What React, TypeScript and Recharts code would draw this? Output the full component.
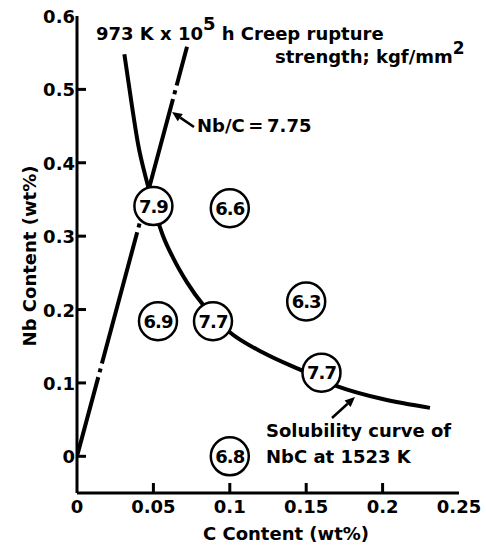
import React from 'react';
import { ComposedChart, XAxis, YAxis, Line, Scatter } from 'recharts';

// ---- data ----
const xTicks = [0, 0.05, 0.1, 0.15, 0.2, 0.25];
const xTickLabels = ['0', '0.05', '0.1', '0.15', '0.2', '0.25'];
const yTicks = [0, 0.1, 0.2, 0.3, 0.4, 0.5, 0.6];
const yTickLabels = ['0', '0.1', '0.2', '0.3', '0.4', '0.5', '0.6'];

// Solubility curve of NbC at 1523 K
const solubilityC = [0.031, 0.036, 0.040, 0.046, 0.050, 0.056, 0.063, 0.072, 0.083, 0.100, 0.122, 0.147, 0.171, 0.200, 0.231];
const solubilityNb = [0.548, 0.477, 0.425, 0.372, 0.341, 0.302, 0.270, 0.237, 0.205, 0.169, 0.141, 0.117, 0.095, 0.078, 0.066];

// Nb/C = 7.75 line
const ratioC = [0, 0.072];
const ratioNb = [0, 0.558];

// Samples: creep rupture strength (kgf/mm2)
const sampleC = [0.05, 0.1, 0.053, 0.089, 0.15, 0.16, 0.1];
const sampleNb = [0.341, 0.338, 0.184, 0.184, 0.211, 0.114, 0];
const sampleStrength = ['7.9', '6.6', '6.9', '7.7', '6.3', '7.7', '6.8'];

const solubilityData = solubilityC.map((c, i) => ({ c, nb: solubilityNb[i] }));
const ratioData = ratioC.map((c, i) => ({ c, nb: ratioNb[i] }));
const sampleData = sampleC.map((c, i) => ({ c, nb: sampleNb[i], v: sampleStrength[i] }));

const FONT = '"DejaVu Sans", sans-serif';
const W = 486;
const H = 546;

const XTick = (props: any) => {
  const { x, y, payload } = props;
  const i = xTicks.indexOf(payload.value);
  return (
    <g>
      {i > 0 && i < xTicks.length - 1 && (
        <line x1={x} y1={y} x2={x} y2={y - 10} stroke="#000" strokeWidth={3} />
      )}
      <text x={x} y={y + 20} textAnchor="middle" fontFamily={FONT} fontWeight="bold" fontSize={18} fill="#000">
        {xTickLabels[i]}
      </text>
    </g>
  );
};

const YTick = (props: any) => {
  const { x, y, payload } = props;
  const i = yTicks.indexOf(Math.round(payload.value * 10) / 10);
  return (
    <g>
      {i < yTicks.length - 1 && (
        <line x1={x} y1={y} x2={x + 9} y2={y} stroke="#000" strokeWidth={3} />
      )}
      <text x={x - 2} y={y + 7} textAnchor="end" fontFamily={FONT} fontWeight="bold" fontSize={18} fill="#000">
        {yTickLabels[i]}
      </text>
    </g>
  );
};

const Marker = (props: any) => {
  const { cx, cy, payload } = props;
  return (
    <g>
      <circle cx={cx} cy={cy} r={19} fill="#fff" stroke="#000" strokeWidth={2.5} />
      <text x={cx} y={cy + 6.5} textAnchor="middle" fontFamily={FONT} fontWeight="bold" fontSize={18} letterSpacing={-1} fill="#000">
        {payload.v}
      </text>
    </g>
  );
};

const Arrow = ({ x1, y1, x2, y2 }: { x1: number; y1: number; x2: number; y2: number }) => {
  const dx = x2 - x1;
  const dy = y2 - y1;
  const len = Math.sqrt(dx * dx + dy * dy);
  const ux = dx / len;
  const uy = dy / len;
  const px = -uy;
  const py = ux;
  const hl = 10;
  const hw = 4.5;
  const bx = x2 - ux * hl;
  const by = y2 - uy * hl;
  return (
    <g>
      <line x1={x1} y1={y1} x2={bx} y2={by} stroke="#000" strokeWidth={2.5} />
      <polygon points={`${x2},${y2} ${bx + px * hw},${by + py * hw} ${bx - px * hw},${by - py * hw}`} fill="#000" />
    </g>
  );
};

const textStyle = { fontFamily: FONT, fontWeight: 'bold' as const, fontSize: 18, fill: '#000' };

export default function App() {
  return (
    <div style={{ position: 'absolute', left: 0, top: 0, width: W, height: H, background: '#fff' }}>
      <ComposedChart width={W} height={H} margin={{ top: 16, right: 27, bottom: 23, left: 0 }}>
        <XAxis
          type="number"
          dataKey="c"
          domain={[0, 0.25]}
          ticks={xTicks}
          allowDataOverflow
          height={30}
          tickSize={0}
          tickMargin={0}
          tick={<XTick />}
          axisLine={{ stroke: '#000', strokeWidth: 3 }}
          tickLine={false}
          interval={0}
        />
        <XAxis
          xAxisId="top"
          orientation="top"
          type="number"
          domain={[0, 0.25]}
          allowDataOverflow
          height={0}
          tick={false}
          tickLine={false}
          axisLine={{ stroke: '#000', strokeWidth: 2.5 }}
        />
        <YAxis
          type="number"
          dataKey="nb"
          domain={[-0.05, 0.6]}
          ticks={yTicks}
          allowDataOverflow
          width={77}
          tickSize={0}
          tickMargin={0}
          tick={<YTick />}
          axisLine={{ stroke: '#000', strokeWidth: 3 }}
          tickLine={false}
          interval={0}
        />
        <YAxis
          yAxisId="right"
          orientation="right"
          type="number"
          domain={[-0.05, 0.6]}
          allowDataOverflow
          width={0}
          tick={false}
          tickLine={false}
          axisLine={{ stroke: '#000', strokeWidth: 3 }}
        />
        <Line
          data={ratioData}
          dataKey="nb"
          type="linear"
          stroke="#000"
          strokeWidth={4}
          strokeDasharray="82 5 4 5 136 5 4 5 124 5 4 5 80"
          dot={false}
          activeDot={false}
          isAnimationActive={false}
        />
        <Line
          data={solubilityData}
          dataKey="nb"
          type="monotone"
          stroke="#000"
          strokeWidth={4}
          dot={false}
          activeDot={false}
          isAnimationActive={false}
        />
        <Scatter data={sampleData} dataKey="nb" shape={<Marker />} isAnimationActive={false} />
      </ComposedChart>
      <svg width={W} height={H} style={{ position: 'absolute', left: 0, top: 0, pointerEvents: 'none' }}>
        <text x={96} y={40} {...textStyle}>
          973 K x 10
          <tspan dy={-10} fontSize={18}>5</tspan>
          <tspan dy={10}> h  Creep  rupture</tspan>
        </text>
        <text x={275} y={63} {...textStyle}>
          strength; kgf/mm
          <tspan dy={-9} fontSize={17}>2</tspan>
        </text>
        <text x={197} y={132} {...textStyle}>Nb/C{'\u2009'}={'\u2009'}7.75</text>
        <Arrow x1={194} y1={127} x2={172} y2={112} />
        <text x={266} y={437} {...textStyle}>Solubility curve of</text>
        <text x={266} y={463} {...textStyle}>NbC  at 1523 K</text>
        <Arrow x1={332} y1={418} x2={355} y2={397} />
        <text x={286} y={540} textAnchor="middle" {...textStyle}>C  Content (wt%)</text>
        <text x={0} y={0} textAnchor="middle" {...textStyle} transform="translate(36,256) rotate(-90)">
          Nb  Content (wt%)
        </text>
      </svg>
    </div>
  );
}
